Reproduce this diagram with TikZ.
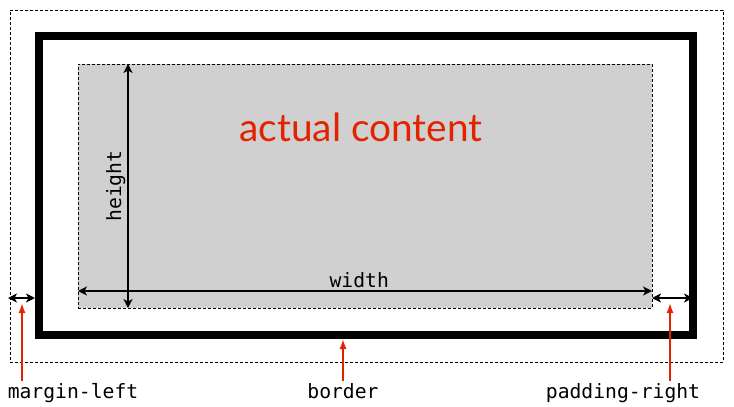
\documentclass[tikz,border=0pt]{standalone}
\usepackage{fontspec}
\setmainfont{Lato}
\setmonofont{DejaVu Sans Mono}
\usetikzlibrary{arrows.meta,positioning}

\definecolor{contentgray}{RGB}{208,208,208}
\definecolor{boxred}{RGB}{227,34,0}

\tikzset{
	marginbox/.style={draw, densely dashed, thin, rectangle, inner sep=0pt, outer sep=0pt},
	borderbox/.style={draw, line width=8pt, rectangle, inner sep=0pt},
	contentbox/.style={draw, densely dashed, thin, fill=contentgray, rectangle, inner sep=0pt, outer sep=0pt},
	dim/.style={{Stealth[length=9pt,width=9pt,inset=2.5pt]}-{Stealth[length=9pt,width=9pt,inset=2.5pt]}, line width=1.5pt},
	pointer/.style={-{Latex[length=10pt,width=7pt]}, boxred, line width=1.7pt},
	lbl/.style={font=\ttfamily\fontsize{19.7}{23}\selectfont, inner sep=2pt}
}

\begin{document}
\begin{tikzpicture}[x=1pt, y=-1pt]
	\useasboundingbox (0,0) rectangle (734,407);
	% the three boxes
	\node[marginbox, minimum width=713pt, minimum height=352pt] (margin) at (366.5,186) {};
	\node[borderbox, minimum width=654pt, minimum height=299pt] (border) at (366,185.5) {};
	\node[contentbox, minimum width=574pt, minimum height=244pt] (content) at (365,186) {};
	\node[boxred, font=\fontsize{38.8}{44}\selectfont] (actual) at (361,127) {actual content};
	% width and height
	\draw[dim] ([xshift=50pt]content.north west) -- ([xshift=50pt]content.south west)
		node[midway, rotate=90, anchor=south, lbl] (hlabel) {height};
	\draw[dim] ([yshift=17pt]content.south west) -- ([yshift=17pt]content.south east)
		node[pos=.49, above, lbl] (wlabel) {width};
	% margin and padding
	\coordinate (mlrow) at (0,298);
	\draw[dim] ([xshift=-2pt]margin.west |- mlrow) -- (border.west |- mlrow);
	\draw[dim] (content.east |- mlrow) -- ([xshift=-4pt]border.east |- mlrow);
	% labels
	\node[lbl, anchor=base] (mlabel) at (73,398) {margin-left};
	\node[lbl, anchor=base] (blabel) at (343,398) {border};
	\node[lbl, anchor=base] (plabel) at (623,398) {padding-right};
	\coordinate (mltip) at (22,303);
	\coordinate (prtip) at (670,303);
	\draw[pointer] (mlabel.north -| mltip) -- (mltip);
	\draw[pointer] (blabel.north) -- (blabel.north |- border.south);
	\draw[pointer] (plabel.north -| prtip) -- (prtip);
\end{tikzpicture}
\end{document}
